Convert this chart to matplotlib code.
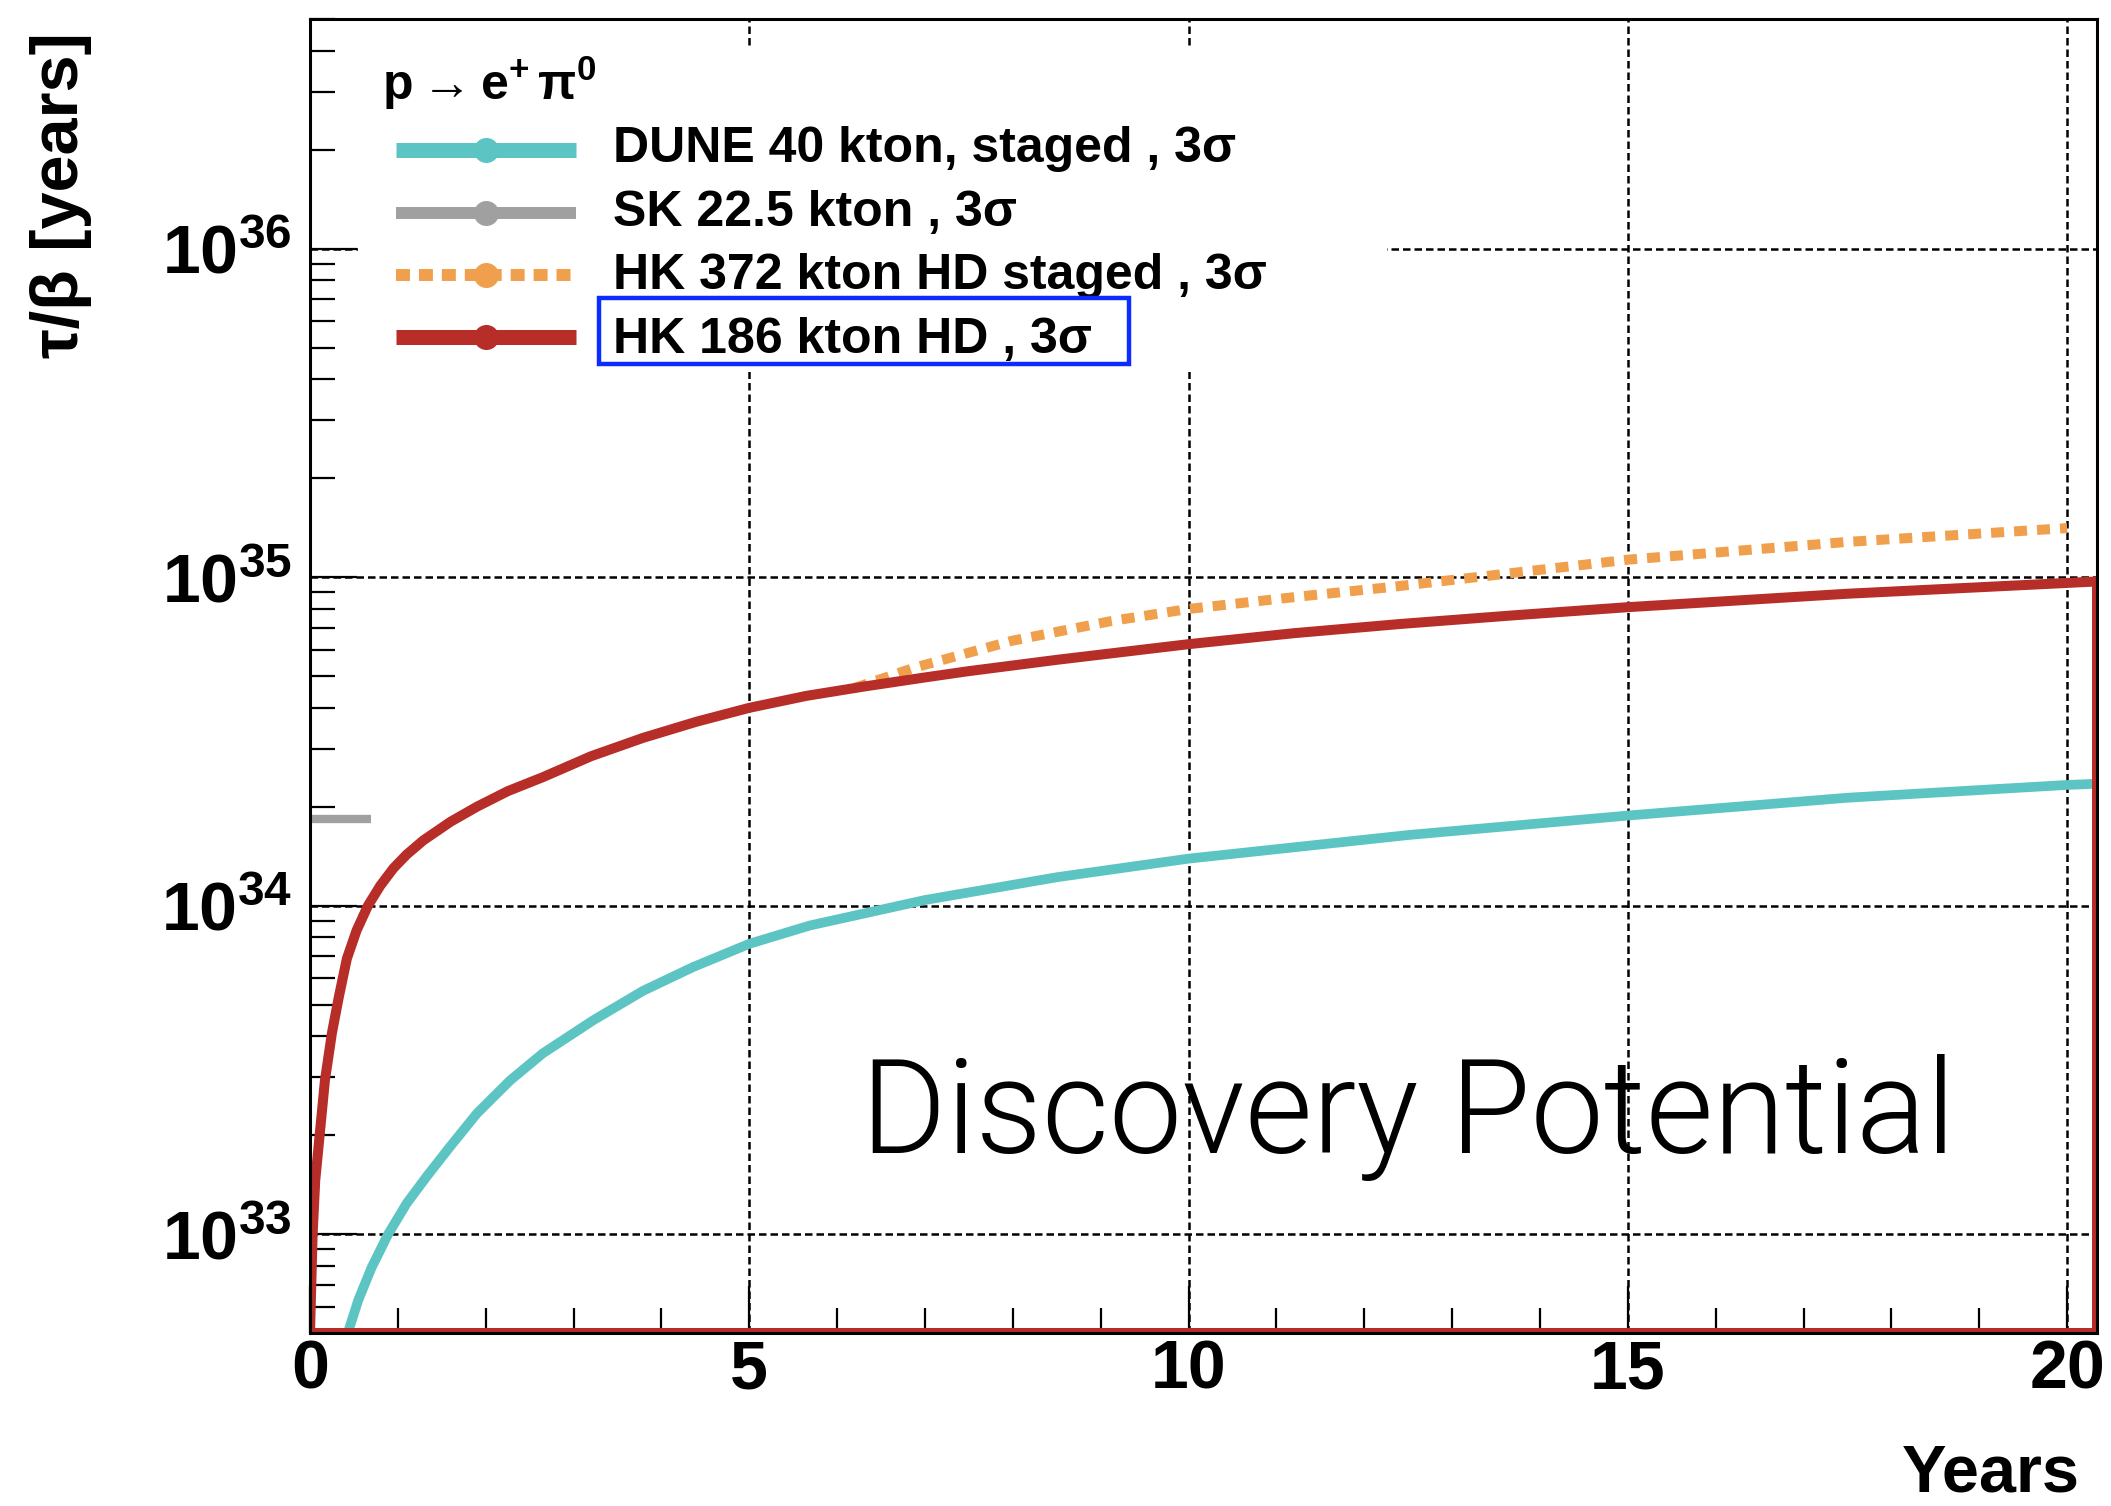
import numpy as np
import matplotlib
matplotlib.use("Agg")
import matplotlib.pyplot as plt
from matplotlib import font_manager as fm
from matplotlib.patches import Rectangle
from matplotlib.ticker import MultipleLocator, LogLocator, FuncFormatter, NullFormatter

# ---------------------------------------------------------------------------
# Sensitivity curves: lifetime / branching ratio (years) versus exposure time
# ---------------------------------------------------------------------------
years_dune = [0.43, 0.55, 0.70, 0.89, 1.10, 1.33, 1.59, 1.90, 2.28, 2.65, 3.22,
              3.79, 4.36, 5.0, 5.69, 7.0, 8.5, 10.0, 12.5, 15.0, 17.5, 20.0, 20.34]
tau_dune = [5.0e32, 6.3e32, 7.9e32, 1.0e33, 1.24e33, 1.5e33, 1.84e33, 2.33e33,
            2.94e33, 3.55e33, 4.47e33, 5.5e33, 6.5e33, 7.65e33, 8.7e33, 1.04e34,
            1.22e34, 1.39e34, 1.64e34, 1.88e34, 2.13e34, 2.33e34, 2.35e34]

years_sk = [0.0, 0.7]
tau_sk = [1.84e34, 1.84e34]

years_hk372 = [6.2, 6.88, 7.99, 9.12, 10.0, 11.3, 12.26, 15.0, 17.5, 20.0]
tau_hk372 = [4.6e34, 5.3e34, 6.4e34, 7.35e34, 8.0e34, 8.75e34, 9.3e34, 1.13e35,
             1.28e35, 1.41e35]

years_hk186 = [0.0, 0.03, 0.06, 0.10, 0.17, 0.25, 0.33, 0.42, 0.53, 0.66, 0.80,
               0.95, 1.10, 1.29, 1.60, 1.90, 2.25, 2.65, 3.20, 3.79, 4.40, 5.0,
               5.65, 6.32, 7.0, 7.49, 8.5, 10.0, 11.2, 12.41, 13.7, 15.0, 17.5,
               20.0, 20.34]
tau_hk186 = [5.0e32, 1.0e33, 1.46e33, 1.88e33, 2.94e33, 4.1e33, 5.3e33, 6.9e33,
             8.4e33, 1.0e34, 1.15e34, 1.3e34, 1.43e34, 1.58e34, 1.8e34, 2.0e34,
             2.23e34, 2.46e34, 2.85e34, 3.24e34, 3.63e34, 4.0e34, 4.35e34, 4.65e34,
             4.95e34, 5.17e34, 5.6e34, 6.25e34, 6.75e34, 7.2e34, 7.65e34, 8.1e34,
             8.9e34, 9.6e34, 9.7e34]

legend_title = r"$\mathbf{p}\rightarrow\mathbf{e}^{+}\,\pi^{0}$"
legend_labels = ["DUNE 40 kton, staged , 3σ",
                 "SK 22.5 kton , 3σ",
                 "HK 372 kton HD staged , 3σ",
                 "HK 186 kton HD , 3σ"]
x_label = "Years"
y_label = "τ/β [years]"
annotation = "Discovery Potential"

X_MAX = 20.34
Y_MIN, Y_MAX = 5e32, 5e36

CYAN = "#5CC5C3"
GRAY = "#A0A0A0"
ORANGE = "#F0A04C"
RED = "#B72D28"
BLUE = "#0B2CFF"

# ---------------------------------------------------------------------------
# Fonts
# ---------------------------------------------------------------------------
installed = {f.name for f in fm.fontManager.ttflist}


def first_installed(*names):
    for n in names:
        if n in installed:
            return n
    return "DejaVu Sans"


NARROW = first_installed("Liberation Sans Narrow", "Liberation Sans")
SANS = first_installed("Liberation Sans", "Roboto")


def light_font():
    for name in ("Roboto", "Lato", "Open Sans", "Inter", "Noto Sans"):
        for f in fm.fontManager.ttflist:
            if f.name != name or f.style != "normal":
                continue
            w = f.weight
            if isinstance(w, str):
                w = fm.weight_dict.get(w, 400)
            if w <= 300:
                return name, w
    return "DejaVu Sans", "light"


LIGHT_FAMILY, LIGHT_WEIGHT = light_font()

plt.rcParams.update({
    "font.family": [NARROW, "DejaVu Sans"],
    "font.weight": "bold",
    "mathtext.fontset": "custom",
    "mathtext.rm": NARROW,
    "mathtext.bf": NARROW + ":bold",
    "mathtext.it": NARROW + ":italic",
    "mathtext.default": "bf",
})

# ---------------------------------------------------------------------------
# Figure layout (pixel frame of the plotting area)
# ---------------------------------------------------------------------------
W, H = 2111, 1506
AX_L, AX_R, AX_T, AX_B = 310, 2097, 19, 1333

fig = plt.figure(figsize=(W / 100, H / 100), dpi=100)
ax = fig.add_axes([AX_L / W, 1 - AX_B / H, (AX_R - AX_L) / W, (AX_B - AX_T) / H])


def ax_x(px):
    return (px - AX_L) / (AX_R - AX_L)


def ax_y(py):
    return (AX_B - py) / (AX_B - AX_T)


ax.set_yscale("log")
ax.set_xlim(0, X_MAX)
ax.set_ylim(Y_MIN, Y_MAX)

# curves
ax.plot(years_dune, tau_dune, color=CYAN, lw=7.0, solid_capstyle="butt",
        solid_joinstyle="round", zorder=3)
ax.plot(years_sk, tau_sk, color=GRAY, lw=6.0, solid_capstyle="butt", zorder=3)
ax.plot(years_hk372, tau_hk372, color=ORANGE, lw=7.2, dashes=(1.3, 1.0),
        dash_capstyle="butt", zorder=3)
# the HK 186 outline closes back along the lower edge of the frame
hk_x = years_hk186 + [years_hk186[-1], years_hk186[0]]
hk_y = tau_hk186 + [Y_MIN, Y_MIN]
ax.plot(hk_x, hk_y, color=RED, lw=7.2, solid_joinstyle="round", zorder=4)

# grid
ax.set_axisbelow(True)
ax.grid(True, which="major", color="black", lw=1.8, ls=(0, (3, 1.6)))

# ticks
ax.xaxis.set_major_locator(MultipleLocator(5))
ax.xaxis.set_minor_locator(MultipleLocator(1))
ax.xaxis.set_major_formatter(FuncFormatter(lambda v, p: f"{v:.0f}"))
ax.yaxis.set_major_locator(LogLocator(base=10, numticks=20))
ax.yaxis.set_minor_locator(LogLocator(base=10, subs=np.arange(2, 10), numticks=20))
ax.yaxis.set_major_formatter(FuncFormatter(
    lambda v, p: r"$\mathbf{10}^{\mathrm{%d}}$" % round(np.log10(v))))
ax.yaxis.set_minor_formatter(NullFormatter())

ax.tick_params(which="both", direction="in", width=1.6, color="black",
               top=False, right=False, labelsize=49)
ax.tick_params(which="major", length=34)
ax.tick_params(which="minor", length=18)
ax.tick_params(axis="x", which="major", pad=4)
ax.tick_params(axis="y", which="major", pad=13)

for side in ("left", "right", "top", "bottom"):
    ax.spines[side].set_linewidth(2.2)
    ax.spines[side].set_zorder(6)

# axis titles
ax.set_xlabel(x_label, fontsize=48, fontweight="bold", family=SANS)
ax.xaxis.set_label_coords(ax_x(2080), ax_y(1491))
ax.xaxis.label.set(ha="right", va="baseline")

ax.set_ylabel(y_label, fontsize=48, fontweight="bold", family=SANS)
ax.yaxis.set_label_coords(ax_x(61), ax_y(32))
ax.yaxis.label.set(ha="right", va="center", rotation=90, rotation_mode="anchor")

# ---------------------------------------------------------------------------
# Legend block
# ---------------------------------------------------------------------------
ax.add_patch(Rectangle((ax_x(358), ax_y(372)), ax_x(1387) - ax_x(358),
                       ax_y(46) - ax_y(372), transform=ax.transAxes,
                       facecolor="white", edgecolor="none", zorder=1))

ax.text(ax_x(382), ax_y(100), legend_title, transform=ax.transAxes,
        ha="left", va="baseline", fontsize=36, zorder=7)

handle_styles = [
    dict(color=CYAN, lw=10.8),
    dict(color=GRAY, lw=8.6),
    dict(color=ORANGE, lw=8.6, dashes=(1.17, 0.75), dash_capstyle="butt"),
    dict(color=RED, lw=10.8),
]
handle_y = [150, 213, 275, 337]
label_base = [162, 226, 289, 353]
for label, style, hy, by in zip(legend_labels, handle_styles, handle_y, label_base):
    ax.plot([ax_x(396), ax_x(576)], [ax_y(hy)] * 2, transform=ax.transAxes,
            clip_on=False, solid_capstyle="butt", zorder=7, **style)
    ax.plot([ax_x(486)], [ax_y(hy)], "o", transform=ax.transAxes, clip_on=False,
            ms=17, color=style["color"], mec=style["color"], zorder=7)
    ax.text(ax_x(613), ax_y(by), label, transform=ax.transAxes, ha="left",
            va="baseline", fontsize=36, fontweight="bold", family=SANS, zorder=7)

# highlight frame around the HK 186 kton entry
ax.add_patch(Rectangle((ax_x(599), ax_y(364)), ax_x(1129) - ax_x(599),
                       ax_y(298) - ax_y(364), transform=ax.transAxes, fill=False,
                       edgecolor=BLUE, lw=3.2, clip_on=False, zorder=8))

ax.text(ax_x(1408), ax_y(1153), annotation, transform=ax.transAxes,
        ha="center", va="baseline", fontsize=94, family=LIGHT_FAMILY,
        fontweight=LIGHT_WEIGHT, color="black", zorder=7)

fig.savefig("out.png", dpi=100, facecolor="white")
